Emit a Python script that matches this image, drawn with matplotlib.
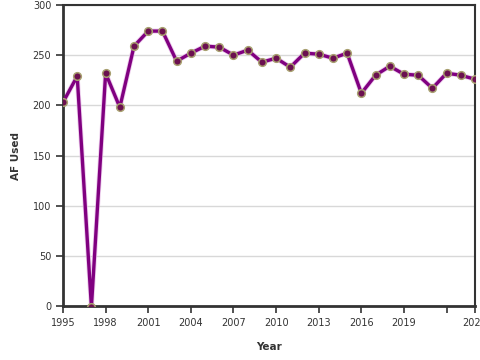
import matplotlib.pyplot as plt

years = list(range(1995, 2025))
af_used = [203, 229, -1, 232, 198, 259, 274, 274, 244, 252,
           259, 258, 250, 255, 243, 247, 238, 252, 251, 247,
           252, 212, 230, 239, 231, 230, 217, 232, 230, 226]

tick_years = [1995, 1998, 2001, 2004, 2007, 2010, 2013, 2016, 2019, 2022, 2024]
tick_labels = ["1995", "1998", "2001", "2004", "2007", "2010", "2013", "2016", "2019", "", "2024"]

fig = plt.figure(figsize=(4.8, 3.6), dpi=100)
ax = fig.add_axes([63 / 480, 1 - 306 / 360, (475 - 63) / 480, (306 - 5) / 360])

ax.plot(years, af_used, color="#e8c0e8", linewidth=3.6, zorder=2, alpha=0.8)
ax.plot(years, af_used, color="#800080", linewidth=2.4, zorder=3,
        marker="o", markersize=5.5, markerfacecolor="#6b1050",
        markeredgecolor="#a8a070", markeredgewidth=1.1)

ax.set_xlim(1995, 2024)
ax.set_ylim(0, 300)
ax.set_xticks(tick_years)
ax.set_xticklabels(tick_labels)
ax.set_yticks([0, 50, 100, 150, 200, 250, 300])

ax.grid(axis="y", color="#d8d8d8", linewidth=1)
ax.set_axisbelow(True)
for side in ["left", "bottom"]:
    ax.spines[side].set_linewidth(2)
    ax.spines[side].set_color("#333333")
for side in ["top", "right"]:
    ax.spines[side].set_linewidth(1.5)
    ax.spines[side].set_color("#333333")

ax.tick_params(labelsize=7, colors="#333333", length=5, width=1.2)
ax.set_xlabel("Year", fontsize=7.5, fontweight="bold", color="#333333", labelpad=10)
ax.set_ylabel("AF Used", fontsize=7.5, fontweight="bold", color="#333333", labelpad=8)

fig.savefig("out.png", dpi=100)
